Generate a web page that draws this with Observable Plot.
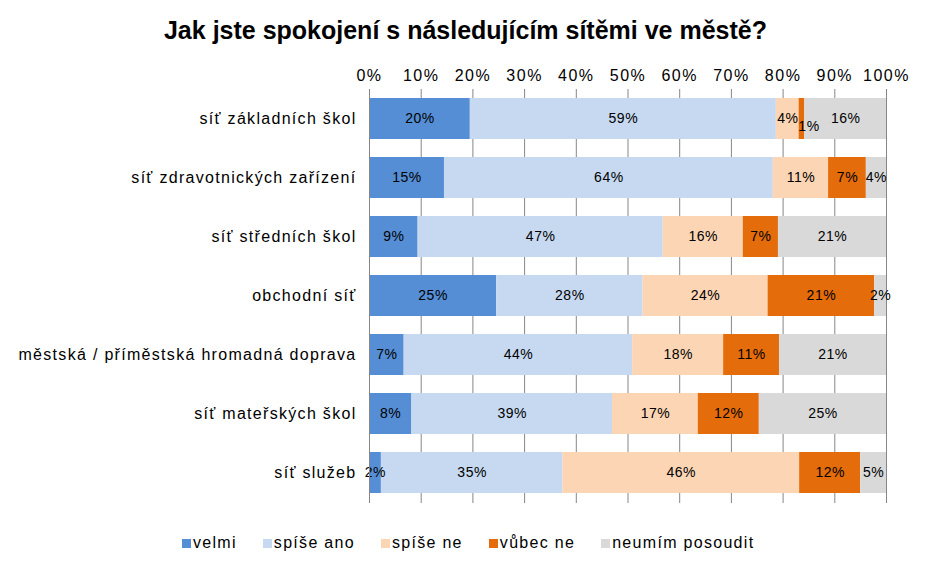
<!DOCTYPE html>
<html>
<head>
<meta charset="utf-8">
<script src="https://cdn.jsdelivr.net/npm/d3@7"></script>
<script src="https://cdn.jsdelivr.net/npm/@observablehq/plot@0.6"></script>
<style>
  body { margin: 0; background: #fff; font-family: "Liberation Sans", Arial, sans-serif; }
  #wrap { width: 931px; }
  #title { height: 50px; line-height: 60px; text-align: center; font-weight: bold; font-size: 25px; color: #000; }
  #legend { display: flex; justify-content: flex-start; margin-top: 20px; font-size: 16px; letter-spacing: 1.3px; color: #000; padding-left: 182px; line-height: 18px; }
  .item { display: flex; align-items: center; margin-right: 26px; }
  .sw { width: 9px; height: 9px; margin-right: 2px; }
  .c g[aria-label="y-axis tick label"] text { letter-spacing: 1.3px; }
  .c g[aria-label="x-axis tick label"] text { letter-spacing: 1.5px; }
  .c g[aria-label="text"] text { letter-spacing: 0.5px; }
</style>
</head>
<body>
<div id="wrap">
  <div id="title">Jak jste spokojení s následujícím sítěmi ve městě?</div>
  <div id="chart"></div>
  <div id="legend"></div>
</div>
<script>
const categories = [
  "síť základních škol",
  "síť zdravotnických zařízení",
  "síť středních škol",
  "obchodní síť",
  "městská / příměstská hromadná doprava",
  "síť mateřských škol",
  "síť služeb"
];
const series = ["velmi", "spíše ano", "spíše ne", "vůbec ne", "neumím posoudit"];
const colors = ["#558ED5", "#C6D9F1", "#FCD5B5", "#E46C0A", "#D9D9D9"];

const velmi        = [19.5, 14.5,  9.4, 24.6,  6.7,  8.2,  2.3];
const spiseAno     = [59.2, 63.6, 47.4, 28.3, 44.2, 38.8, 35.1];
const spiseNe      = [ 4.4, 10.7, 15.5, 24.2, 17.6, 16.6, 45.8];
const vubecNe      = [ 1.1,  7.3,  6.8, 20.6, 10.8, 11.8, 11.8];
const neumim       = [15.8,  3.9, 20.9,  2.3, 20.7, 24.6,  5.0];

const xTicks = [0, 10, 20, 30, 40, 50, 60, 70, 80, 90, 100];

const seriesValues = [velmi, spiseAno, spiseNe, vubecNe, neumim];
const data = [];
categories.forEach((c, i) => {
  series.forEach((s, j) => {
    data.push({category: c, series: s, value: seriesValues[j][i]});
  });
});
const pct = d => Math.round(d.value) + "%";

const chart = Plot.plot({
  className: "c",
  width: 931,
  height: 464,
  marginLeft: 369,
  marginRight: 45,
  marginTop: 39,
  marginBottom: 11,
  style: {fontFamily: "'Liberation Sans', Arial, sans-serif", fontSize: "16px", color: "#000", background: "#fff"},
  x: {domain: [0, 100], ticks: xTicks},
  y: {domain: categories, paddingInner: 0.3, paddingOuter: 0.15},
  color: {domain: series, range: colors},
  marks: [
    Plot.gridX(xTicks, {stroke: "#868686", strokeOpacity: 1, strokeWidth: 1}),
    Plot.barX(data, Plot.stackX({x: "value", y: "category", fill: "series", order: series})),
    Plot.text(data, Plot.stackX({
      x: "value", y: "category", z: "series", order: series,
      text: d => d.value >= 2 ? pct(d) : "",
      fill: "#000", fontSize: 14
    })),
    Plot.text(data, Plot.stackX({
      x: "value", y: "category", z: "series", order: series,
      text: d => d.value < 2 ? pct(d) : "",
      fill: "#000", fontSize: 14, dx: 7, dy: 8
    })),
    Plot.ruleX([0], {stroke: "#868686"}),
    Plot.axisX(xTicks, {anchor: "top", tickSize: 0, tickPadding: 9, tickFormat: d => d + "%", fontSize: 16, label: null}),
    Plot.axisY({tickSize: 0, tickPadding: 13, fontSize: 16, label: null})
  ]
});
document.getElementById("chart").appendChild(chart);

const legend = document.getElementById("legend");
series.forEach((s, j) => {
  const item = document.createElement("div");
  item.className = "item";
  const sw = document.createElement("div");
  sw.className = "sw";
  sw.style.background = colors[j];
  const t = document.createElement("span");
  t.textContent = s;
  item.appendChild(sw);
  item.appendChild(t);
  legend.appendChild(item);
});
</script>
</body>
</html>
